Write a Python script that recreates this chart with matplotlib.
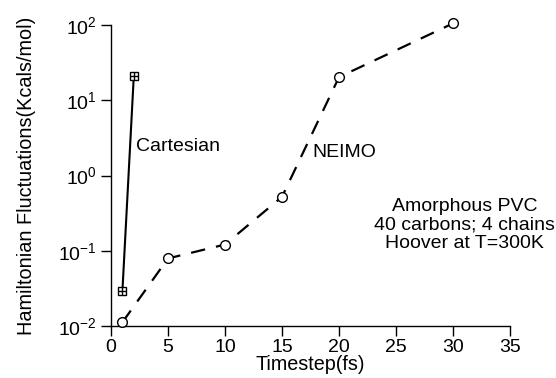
import matplotlib
matplotlib.use("Agg")
import matplotlib.pyplot as plt
from matplotlib.ticker import FixedLocator, NullLocator

plt.rcParams['font.family'] = ['Liberation Sans', 'DejaVu Sans']

neimo_x = [1, 5, 10, 15, 20, 30]
neimo_y = [0.0112, 0.079, 0.121, 0.52, 20.3, 105]
cart_x = [1, 2]
cart_y = [0.029, 21]

xticks = [0, 5, 10, 15, 20, 25, 30, 35]
yticks = [1e-2, 1e-1, 1e0, 1e1, 1e2]
ytick_labels = [r'$\mathregular{10^{-2}}$', r'$\mathregular{10^{-1}}$', r'$\mathregular{10^{0}}$',
                r'$\mathregular{10^{1}}$', r'$\mathregular{10^{2}}$']

fig = plt.figure(figsize=(5.56, 3.78), dpi=100)
ax = fig.add_axes([111/556, 1-326/378, (510-111)/556, (326-25)/378])

ax.plot(neimo_x, neimo_y, color='black', lw=1.6, dashes=(6.5, 5), zorder=2, clip_on=False)
ax.plot(neimo_x, neimo_y, ls='none', marker='o', ms=7, mfc='white', mec='black', mew=1.0,
        zorder=3, clip_on=False)
ax.plot(cart_x, cart_y, color='black', lw=1.5, zorder=2, clip_on=False)
ax.plot(cart_x, cart_y, ls='none', marker='s', ms=6, mfc='white', mec='black', mew=1.0,
        zorder=3, clip_on=False)
ax.plot(cart_x, cart_y, ls='none', marker='+', ms=6, mec='black', mew=1.0, zorder=4, clip_on=False)

ax.set_yscale('log')
ax.set_xlim(0, 35)
ax.set_ylim(1e-2, 1e2)
ax.xaxis.set_major_locator(FixedLocator(xticks))
ax.set_xticklabels([str(t) for t in xticks])
ax.yaxis.set_major_locator(FixedLocator(yticks))
ax.yaxis.set_minor_locator(NullLocator())
ax.set_yticklabels(ytick_labels)

for s in ['top', 'right']:
    ax.spines[s].set_visible(False)
for s in ['left', 'bottom']:
    ax.spines[s].set_linewidth(1.0)
ax.tick_params(axis='both', direction='out', length=7, width=1.0, labelsize=14, pad=3)
ax.tick_params(axis='x', pad=2)

ax.set_xlabel('Timestep(fs)', fontsize=14.2, labelpad=0)
ax.set_ylabel('Hamiltonian Fluctuations(Kcals/mol)', fontsize=14.3, labelpad=16)

ax.text(2.2, 2.46, 'Cartesian', fontsize=14, ha='left', va='center')
ax.text(17.7, 2.05, 'NEIMO', fontsize=14, ha='left', va='center')
ax.text(31.0, 0.22, 'Amorphous PVC\n40 carbons; 4 chains\nHoover at T=300K',
        fontsize=14.0, ha='center', va='center', linespacing=1.1)

fig.savefig('out.png', dpi=100)
